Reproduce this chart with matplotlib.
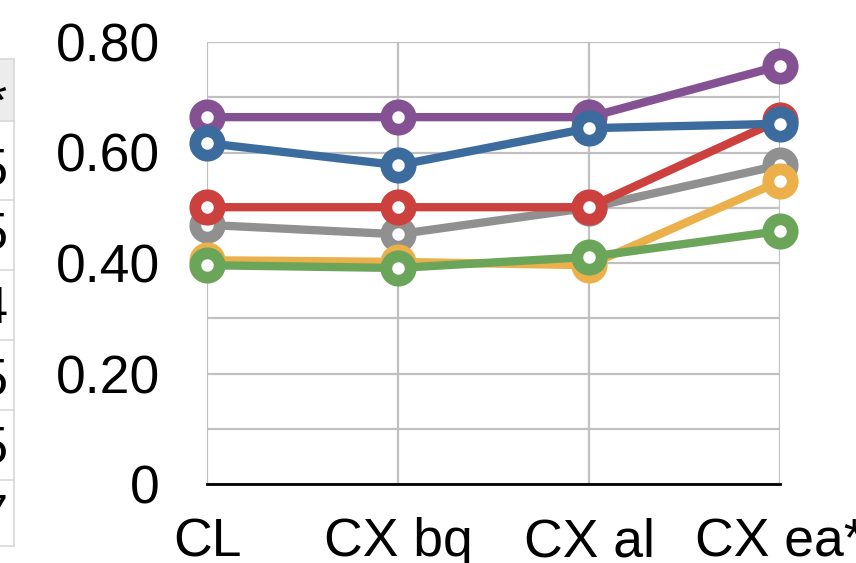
import matplotlib
matplotlib.use("Agg")
import matplotlib.pyplot as plt
from matplotlib.patches import Rectangle
from matplotlib.lines import Line2D
import numpy as np

plt.rcParams['font.family'] = ['Liberation Sans', 'DejaVu Sans']

categories = ["CL", "CX bq", "CX al", "CX ea*"]
# series drawn in this order (later on top)
purple = [0.664, 0.664, 0.664, 0.757]
gray = [0.469, 0.452, 0.500, 0.577]
red = [0.501, 0.501, 0.501, 0.659]
orange = [0.405, 0.402, 0.396, 0.548]
green = [0.396, 0.391, 0.411, 0.458]
blue = [0.617, 0.577, 0.644, 0.652]

series = [purple, gray, red, orange, green, blue]
colors = ["#845292", "#8f908f", "#cc403d", "#ecb04b", "#6ba55a", "#3c6b9d"]

ytick_vals = [0.0, 0.2, 0.4, 0.6, 0.8]
ytick_labels = ["0", "0.20", "0.40", "0.60", "0.80"]

# clipped table fragment on the far left
table_header = "ea*"
table_values = ["0.55", "0.55", "0.54", "0.55", "0.55", "0.57"]

W, H = 856, 563
fig = plt.figure(figsize=(W / 100, H / 100), dpi=100)

def fx(px):
    return px / W

def fy(py):
    return 1 - py / H

ax = fig.add_axes([fx(207), fy(484), fx(780) - fx(207), fy(42) - fy(484)])
x = np.arange(len(categories))
for vals, c in zip(series, colors):
    ax.plot(x, vals, color=c, lw=6, marker='o', ms=17.5, mew=8.5,
            mfc='white', mec=c, solid_capstyle='round', clip_on=False, zorder=3)

ax.set_xlim(0, 3)
ax.set_ylim(0, 0.8)
ax.set_xticks(x)
ax.set_xticklabels(categories)
ax.set_yticks(ytick_vals)
ax.set_yticklabels(ytick_labels)
ax.set_yticks(np.arange(0, 0.81, 0.1), minor=True)
ax.tick_params(axis='both', which='both', length=0, labelsize=38.5)
ax.tick_params(axis='y', pad=34)
ax.tick_params(axis='x', pad=24)
ax.grid(True, which='both', color='#c0c0c0', lw=1.6, zorder=0)
for s in ['left', 'right', 'top']:
    ax.spines[s].set_visible(False)
ax.spines['bottom'].set_color('black')
ax.spines['bottom'].set_linewidth(2)
ax.spines['bottom'].set_zorder(2)
ax.set_axisbelow(True)

# table fragment
fig.patches.append(Rectangle((fx(-5), fy(121)), fx(19), fy(59) - fy(121),
                             transform=fig.transFigure, facecolor='#ececec',
                             edgecolor='none', zorder=0))
for yy in [59, 121, 200, 270, 340, 410, 480, 546]:
    fig.lines.append(Line2D([fx(0), fx(14)], [fy(yy), fy(yy)], transform=fig.transFigure,
                            color='#d8d8d8', lw=1.2))
fig.lines.append(Line2D([fx(14), fx(14)], [fy(59), fy(546)], transform=fig.transFigure,
                        color='#d8d8d8', lw=1.2))
fig.text(fx(8), fy(118), table_header, ha='right', va='baseline', fontsize=37)
for yb, v in zip([185, 250, 323, 395, 463, 531], table_values):
    fig.text(fx(8), fy(yb), v, ha='right', va='baseline', fontsize=37)

fig.savefig("out.png", dpi=100)
